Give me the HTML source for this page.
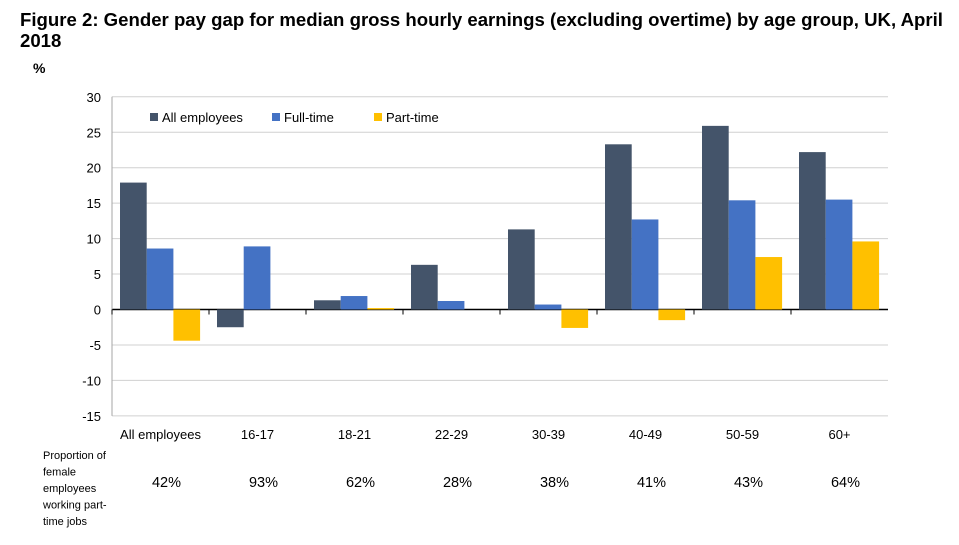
<!DOCTYPE html>
<html><head><meta charset="utf-8"><style>
body{margin:0;background:#fff;width:959px;height:540px;overflow:hidden;font-family:"Liberation Sans",sans-serif}
</style></head><body>
<svg width="959" height="540">
<text x="20" y="26" font-size="18.6" font-weight="bold">Figure 2: Gender pay gap for median gross hourly earnings (excluding overtime) by age group, UK, April</text>
<text x="20" y="47" font-size="18.6" font-weight="bold">2018</text>
<text x="33" y="73" font-size="14" font-weight="bold">%</text>
<g id="g"></g>
</svg>
<script>
const categories=["All employees","16-17","18-21","22-29","30-39","40-49","50-59","60+"];
const allEmp=[17.9,-2.5,1.3,6.3,11.3,23.3,25.9,22.2];
const fullTime=[8.6,8.9,1.9,1.2,0.7,12.7,15.4,15.5];
const partTime=[-4.4,null,0.2,null,-2.6,-1.5,7.4,9.6];
const proportions=["42%","93%","62%","28%","38%","41%","43%","64%"];
const yTicks=[30,25,20,15,10,5,0,-5,-10,-15];
const NS="http://www.w3.org/2000/svg",g=document.getElementById('g');
const x0=112,x1=888,gw=(x1-x0)/categories.length;
const y=v=>309.5-v*7.09;
function el(t,a,txt){const e=document.createElementNS(NS,t);for(const k in a)e.setAttribute(k,a[k]);if(txt!=null)e.textContent=txt;g.appendChild(e);return e;}
yTicks.forEach(t=>{
 const l=el('line',{x1:x0,x2:x1,y1:y(t),y2:y(t),stroke:t===0?'#000':'#d0d0d0','stroke-width':t===0?1.5:1});
 
 
 const tx=el('text',{x:101,y:y(t)+5,'font-size':13,'text-anchor':'end'},String(t));
 
 
});
const ax=el('line',{x1:x0,x2:x0,y1:y(30),y2:y(-15),stroke:'#a6a6a6'});


const series=[[allEmp,'#44546A','all-employees'],[fullTime,'#4472C4','full-time'],[partTime,'#FFC000','part-time']];
const bw=26.7;
categories.forEach((c,i)=>{
 const gx=x0+i*gw;
 const tk=el('line',{x1:gx,x2:gx,y1:y(0),y2:y(0)+5,stroke:'#000'});
 
 
 series.forEach((s,j)=>{
  const v=s[0][i]; if(v==null)return;
  const r=el('rect',{x:gx+8+j*bw,y:Math.min(y(v),y(0)),width:bw,height:Math.max(Math.abs(y(v)-y(0)),1),fill:s[1]});
  
  
 });
 const lb=el('text',{x:gx+gw/2,y:439,'font-size':13,'text-anchor':'middle'},c);
 
 
 const p=el('text',{x:gx+gw/2+6,y:487,'font-size':14.5,'text-anchor':'middle'},proportions[i]);
 
 
});
const lg=[["All employees",'#44546A',150],["Full-time",'#4472C4',272],["Part-time",'#FFC000',374]];
lg.forEach(l=>{
 const r=el('rect',{x:l[2],y:113,width:8,height:8,fill:l[1]});
 
 
 const t=el('text',{x:l[2]+12,y:122,'font-size':13},l[0]);
 
 
});
["Proportion of","female","employees","working part-","time jobs"].forEach((s,k)=>{
 const t=el('text',{x:43,y:459+k*16.5,'font-size':11},s);
 
 
});
</script>
</body></html>
